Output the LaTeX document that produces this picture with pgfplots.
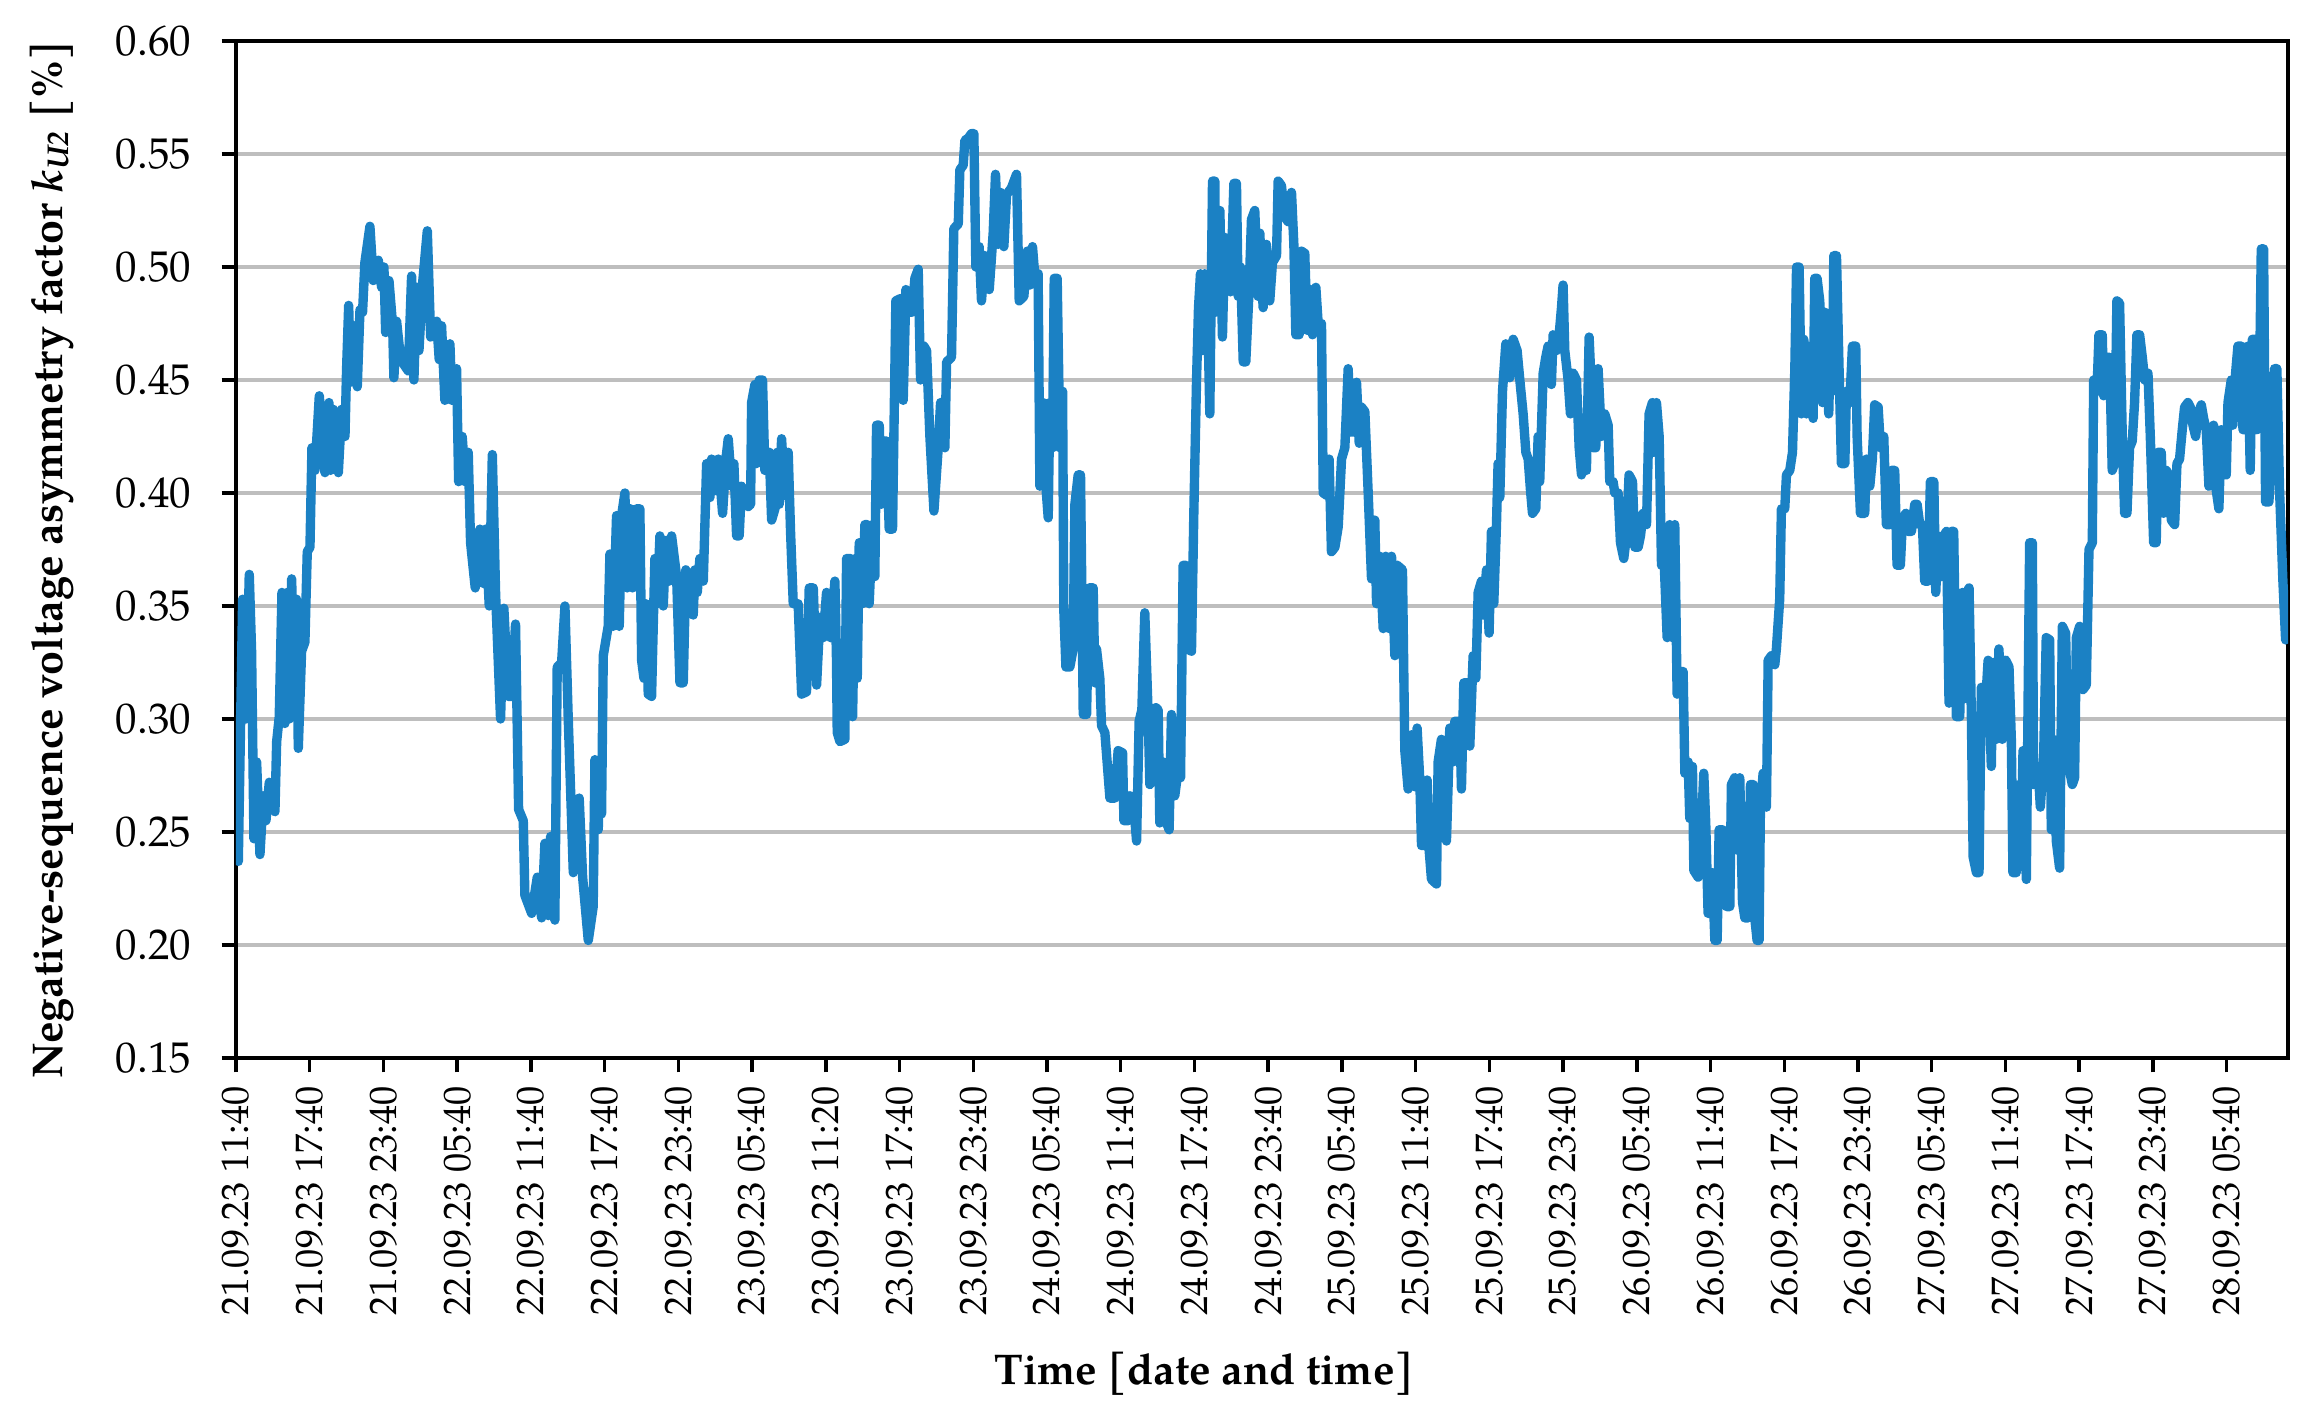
\documentclass[border=0pt]{standalone}
\usepackage{pgfplots}
\pgfplotsset{compat=1.18}
\usepackage{fontspec}
\setmainfont{TeX Gyre Pagella}
\definecolor{lineblue}{RGB}{27,129,196}
\definecolor{gridgray}{RGB}{190,190,190}
\begin{document}
\begin{tikzpicture}
\begin{axis}[
  scale only axis,
  width=18.468cm, height=9.153cm,
  xmin=0, xmax=167, ymin=0.15, ymax=0.60,
  xtick={0,6,...,162},
  xticklabels={21.09.23 11:40,21.09.23 17:40,21.09.23 23:40,22.09.23 05:40,22.09.23 11:40,22.09.23 17:40,22.09.23 23:40,23.09.23 05:40,23.09.23 11:20,23.09.23 17:40,23.09.23 23:40,24.09.23 05:40,24.09.23 11:40,24.09.23 17:40,24.09.23 23:40,25.09.23 05:40,25.09.23 11:40,25.09.23 17:40,25.09.23 23:40,26.09.23 05:40,26.09.23 11:40,26.09.23 17:40,26.09.23 23:40,27.09.23 05:40,27.09.23 11:40,27.09.23 17:40,27.09.23 23:40,28.09.23 05:40},
  x tick label style={rotate=90, anchor=east, font=\fontsize{9.8}{11}\selectfont},
  ytick={0.15,0.20,0.25,0.30,0.35,0.40,0.45,0.50,0.55,0.60},
  y tick label style={font=\fontsize{11}{13}\selectfont, xshift=-0.15cm,
    /pgf/number format/fixed, /pgf/number format/fixed zerofill,
    /pgf/number format/precision=2, /pgf/number format/assume math mode=true},
  ymajorgrids,
  grid style={draw=gridgray, line width=0.8pt},
  axis line style={line width=0.9pt},
  tick style={black, line width=0.9pt},
  tick align=outside,
  major tick length=0.13cm,
  xtick pos=bottom, ytick pos=left,
  xlabel={\textbf{Time [date and time]}},
  xlabel style={at={(axis description cs:0.472,-0.3108)}, anchor=center, font=\fontsize{11}{13}\selectfont},
  ylabel={\textbf{Negative-sequence voltage asymmetry factor \textit{k}\textsubscript{\textit{U2}} [\%]}},
  ylabel style={at={(axis description cs:-0.0897,0.49)}, anchor=center, font=\fontsize{11}{13}\selectfont},
]
\addplot[color=lineblue, line width=2.4pt, line join=round] table {
t v
0.00 0.240
0.08 0.300
0.19 0.237
0.54 0.353
0.81 0.300
1.08 0.364
1.27 0.330
1.46 0.247
1.68 0.281
1.95 0.240
2.22 0.266
2.44 0.255
2.71 0.272
3.04 0.262
3.17 0.259
3.31 0.290
3.52 0.301
3.74 0.356
3.98 0.298
4.17 0.356
4.34 0.300
4.53 0.362
4.72 0.316
4.93 0.353
5.07 0.287
5.34 0.330
5.61 0.334
5.80 0.374
6.02 0.376
6.18 0.420
6.43 0.410
6.78 0.443
7.24 0.409
7.57 0.440
7.70 0.410
7.92 0.437
8.33 0.409
8.60 0.437
8.87 0.425
9.00 0.455
9.17 0.483
9.33 0.449
9.60 0.474
9.87 0.447
10.09 0.481
10.30 0.480
10.49 0.502
10.90 0.518
11.17 0.494
11.58 0.503
11.85 0.491
12.04 0.500
12.18 0.471
12.45 0.494
12.75 0.474
12.85 0.451
13.07 0.476
13.40 0.459
14.02 0.454
14.29 0.496
14.48 0.450
14.70 0.491
14.89 0.463
15.19 0.493
15.57 0.516
15.84 0.469
16.33 0.476
16.54 0.459
16.73 0.474
17.00 0.441
17.41 0.466
17.57 0.441
17.95 0.455
18.12 0.405
18.41 0.425
18.66 0.405
18.90 0.418
19.09 0.378
19.47 0.358
19.85 0.384
20.12 0.360
20.31 0.384
20.61 0.350
20.86 0.417
21.13 0.355
21.53 0.300
21.80 0.349
22.16 0.310
22.43 0.310
22.75 0.342
23.00 0.260
23.38 0.255
23.51 0.222
24.06 0.214
24.52 0.230
24.87 0.212
25.14 0.245
25.41 0.213
25.60 0.248
25.95 0.211
26.14 0.323
26.50 0.325
26.77 0.350
27.04 0.300
27.45 0.232
27.93 0.265
28.21 0.230
28.67 0.202
29.07 0.217
29.21 0.282
29.48 0.251
29.62 0.282
29.75 0.258
29.89 0.328
30.29 0.341
30.43 0.373
30.70 0.341
30.97 0.390
31.19 0.341
31.38 0.390
31.65 0.400
31.84 0.358
32.11 0.393
32.27 0.358
32.60 0.393
32.87 0.393
33.01 0.326
33.20 0.318
33.36 0.351
33.55 0.311
33.82 0.310
34.09 0.371
34.28 0.351
34.50 0.381
34.77 0.350
34.99 0.379
35.26 0.361
35.45 0.381
35.86 0.363
36.13 0.316
36.40 0.316
36.61 0.366
36.94 0.361
37.21 0.346
37.35 0.366
37.54 0.356
37.75 0.371
38.03 0.361
38.30 0.413
38.57 0.398
38.70 0.415
38.97 0.401
39.25 0.415
39.60 0.391
39.87 0.415
40.06 0.424
40.33 0.403
40.52 0.413
40.74 0.381
40.95 0.381
41.14 0.403
41.69 0.394
41.88 0.395
41.96 0.440
42.23 0.448
42.36 0.413
42.58 0.450
42.85 0.450
43.04 0.410
43.40 0.418
43.59 0.388
43.86 0.393
44.05 0.418
44.21 0.395
44.40 0.424
44.67 0.399
44.94 0.418
45.13 0.383
45.35 0.351
45.75 0.351
46.03 0.311
46.43 0.312
46.65 0.358
46.98 0.358
47.25 0.315
47.52 0.345
47.79 0.336
48.06 0.356
48.39 0.336
48.74 0.361
48.87 0.326
48.93 0.294
49.15 0.290
49.55 0.291
49.69 0.371
50.01 0.371
50.18 0.301
50.39 0.371
50.56 0.318
50.72 0.378
50.99 0.351
51.18 0.386
51.37 0.386
51.53 0.351
51.80 0.386
51.99 0.363
52.13 0.430
52.35 0.430
52.53 0.395
52.73 0.423
52.94 0.423
53.16 0.384
53.43 0.384
53.70 0.485
54.08 0.486
54.30 0.441
54.52 0.490
54.84 0.480
55.03 0.480
55.25 0.495
55.52 0.499
55.71 0.450
55.98 0.465
56.20 0.463
56.47 0.425
56.80 0.392
57.15 0.420
57.34 0.440
57.69 0.420
57.83 0.458
58.23 0.460
58.42 0.517
58.78 0.519
58.91 0.543
59.18 0.545
59.32 0.556
59.59 0.557
59.86 0.559
60.05 0.559
60.21 0.500
60.48 0.509
60.67 0.485
60.95 0.505
61.30 0.490
61.62 0.515
61.81 0.541
62.03 0.510
62.22 0.533
62.49 0.509
62.71 0.532
63.11 0.535
63.52 0.541
63.74 0.485
64.12 0.487
64.39 0.507
64.61 0.492
64.82 0.509
65.01 0.496
65.28 0.497
65.42 0.403
65.69 0.440
65.91 0.403
66.10 0.389
66.23 0.440
66.45 0.420
66.59 0.495
66.83 0.495
67.05 0.420
67.27 0.445
67.37 0.348
67.54 0.323
67.86 0.323
68.13 0.331
68.27 0.395
68.54 0.408
68.73 0.408
68.95 0.302
69.22 0.302
69.43 0.358
69.76 0.358
69.90 0.316
70.03 0.331
70.30 0.318
70.44 0.297
70.71 0.294
71.12 0.265
71.52 0.265
71.79 0.286
72.15 0.285
72.26 0.255
72.61 0.255
72.74 0.266
73.01 0.265
73.29 0.246
73.50 0.299
73.72 0.304
73.96 0.347
74.24 0.301
74.37 0.271
74.64 0.274
74.86 0.305
75.05 0.304
75.18 0.254
75.46 0.281
75.67 0.255
75.94 0.251
76.13 0.302
76.40 0.266
76.59 0.274
76.87 0.274
77.08 0.368
77.30 0.368
77.41 0.331
77.76 0.330
77.95 0.391
78.17 0.450
78.33 0.482
78.49 0.497
78.65 0.463
78.85 0.497
79.04 0.492
79.25 0.435
79.47 0.538
79.66 0.538
79.74 0.480
79.93 0.510
80.07 0.525
80.28 0.469
80.47 0.513
80.74 0.512
80.93 0.489
81.21 0.537
81.42 0.537
81.56 0.487
81.75 0.500
81.97 0.458
82.18 0.458
82.45 0.490
82.64 0.521
82.91 0.525
83.18 0.487
83.32 0.515
83.59 0.482
83.86 0.510
84.13 0.485
84.35 0.502
84.68 0.505
84.81 0.538
85.08 0.536
85.36 0.522
85.63 0.520
85.90 0.533
86.09 0.510
86.25 0.470
86.52 0.470
86.71 0.507
86.98 0.506
87.17 0.472
87.45 0.490
87.61 0.470
87.88 0.491
88.07 0.475
88.34 0.475
88.48 0.400
88.75 0.399
88.96 0.415
89.15 0.374
89.43 0.376
89.70 0.385
89.97 0.415
90.24 0.420
90.51 0.455
90.70 0.427
90.97 0.427
91.19 0.449
91.41 0.422
91.59 0.438
91.87 0.436
92.14 0.400
92.41 0.362
92.68 0.388
92.82 0.351
93.09 0.372
93.36 0.340
93.57 0.372
93.85 0.340
94.04 0.372
94.31 0.328
94.50 0.368
94.93 0.366
95.12 0.286
95.39 0.269
95.66 0.293
95.93 0.270
96.12 0.296
96.34 0.273
96.48 0.244
96.80 0.244
96.94 0.273
97.10 0.242
97.29 0.229
97.70 0.227
97.83 0.281
98.10 0.291
98.29 0.269
98.51 0.246
98.78 0.296
99.05 0.281
99.19 0.299
99.60 0.299
99.73 0.269
99.92 0.316
100.27 0.316
100.41 0.288
100.68 0.328
100.90 0.318
101.09 0.356
101.36 0.361
101.49 0.346
101.77 0.366
101.98 0.338
102.17 0.383
102.36 0.351
102.58 0.386
102.71 0.413
102.85 0.398
103.07 0.445
103.34 0.466
103.66 0.451
103.94 0.468
104.26 0.463
104.48 0.450
104.75 0.435
104.97 0.418
105.16 0.415
105.35 0.401
105.51 0.391
105.78 0.393
105.97 0.425
106.10 0.405
106.38 0.453
106.59 0.460
106.78 0.465
107.05 0.448
107.19 0.470
107.46 0.463
107.68 0.470
107.87 0.482
108.00 0.492
108.14 0.463
108.41 0.450
108.60 0.435
108.82 0.453
109.09 0.450
109.31 0.420
109.50 0.408
109.77 0.425
109.90 0.410
110.12 0.469
110.31 0.445
110.45 0.420
110.66 0.420
110.85 0.455
111.12 0.425
111.39 0.435
111.67 0.430
111.80 0.405
112.07 0.405
112.21 0.400
112.48 0.400
112.67 0.378
112.94 0.371
113.16 0.381
113.37 0.408
113.65 0.405
113.84 0.376
114.11 0.376
114.30 0.381
114.51 0.391
114.79 0.386
115.00 0.435
115.27 0.440
115.38 0.418
115.60 0.440
115.82 0.425
116.01 0.368
116.20 0.373
116.47 0.336
116.68 0.386
116.90 0.336
117.09 0.386
117.28 0.311
117.50 0.321
117.77 0.321
117.91 0.276
118.18 0.281
118.31 0.256
118.53 0.279
118.64 0.233
118.99 0.230
119.18 0.242
119.45 0.276
119.61 0.254
119.80 0.214
120.08 0.214
120.16 0.232
120.35 0.202
120.54 0.202
120.70 0.251
120.97 0.251
121.16 0.244
121.30 0.217
121.57 0.217
121.70 0.271
121.97 0.274
122.16 0.242
122.38 0.274
122.60 0.219
122.79 0.212
123.06 0.212
123.25 0.271
123.47 0.271
123.60 0.212
123.79 0.202
123.95 0.202
124.06 0.261
124.28 0.276
124.55 0.261
124.69 0.326
124.96 0.328
125.23 0.324
125.36 0.331
125.63 0.353
125.77 0.393
126.04 0.393
126.18 0.408
126.45 0.410
126.67 0.418
126.86 0.455
127.00 0.500
127.21 0.500
127.40 0.435
127.59 0.468
127.80 0.435
127.94 0.465
128.13 0.458
128.35 0.433
128.48 0.495
128.67 0.495
128.89 0.485
129.11 0.440
129.30 0.480
129.43 0.465
129.62 0.435
129.76 0.470
129.92 0.445
130.03 0.505
130.25 0.505
130.46 0.455
130.65 0.413
130.93 0.413
131.06 0.445
131.33 0.440
131.55 0.465
131.82 0.465
131.93 0.425
132.20 0.391
132.55 0.391
132.69 0.415
132.96 0.403
133.17 0.415
133.36 0.439
133.64 0.438
133.83 0.420
134.10 0.425
134.31 0.386
134.59 0.386
134.72 0.410
134.99 0.410
135.18 0.368
135.45 0.368
135.62 0.388
135.89 0.391
136.08 0.383
136.35 0.383
136.62 0.395
136.81 0.395
137.03 0.386
137.24 0.386
137.43 0.361
137.71 0.361
137.89 0.405
138.17 0.405
138.33 0.356
138.52 0.381
138.79 0.363
138.98 0.381
139.20 0.383
139.41 0.307
139.60 0.383
139.79 0.383
140.01 0.301
140.28 0.301
140.50 0.356
140.69 0.309
140.88 0.356
141.04 0.358
141.23 0.301
141.37 0.239
141.64 0.232
141.85 0.232
142.04 0.314
142.32 0.301
142.59 0.326
142.85 0.279
142.98 0.325
143.26 0.291
143.47 0.331
143.74 0.291
144.02 0.326
144.29 0.323
144.48 0.291
144.61 0.232
144.88 0.232
145.10 0.271
145.29 0.244
145.43 0.286
145.70 0.229
145.97 0.378
146.19 0.378
146.29 0.271
146.65 0.279
146.84 0.261
147.11 0.284
147.32 0.336
147.60 0.335
147.73 0.251
147.92 0.291
148.14 0.246
148.41 0.234
148.63 0.341
148.90 0.338
149.09 0.281
149.44 0.271
149.63 0.274
149.77 0.336
150.04 0.341
150.31 0.313
150.58 0.315
150.80 0.375
151.07 0.378
151.18 0.450
151.45 0.445
151.61 0.470
151.88 0.470
151.99 0.443
152.21 0.460
152.48 0.460
152.69 0.410
152.88 0.413
153.07 0.485
153.29 0.484
153.51 0.425
153.70 0.391
153.89 0.391
154.10 0.420
154.32 0.423
154.51 0.440
154.70 0.470
154.92 0.470
155.14 0.460
155.33 0.450
155.60 0.453
155.79 0.425
156.06 0.378
156.27 0.378
156.41 0.418
156.68 0.418
156.87 0.391
157.09 0.410
157.31 0.408
157.50 0.388
157.77 0.386
157.96 0.413
158.17 0.415
158.39 0.428
158.58 0.438
158.85 0.440
159.04 0.438
159.26 0.430
159.48 0.425
159.66 0.435
159.94 0.439
160.13 0.433
160.34 0.428
160.56 0.403
160.75 0.405
160.94 0.430
161.16 0.401
161.37 0.393
161.56 0.428
161.75 0.410
161.97 0.408
162.11 0.440
162.38 0.450
162.51 0.430
162.73 0.453
162.92 0.465
163.19 0.465
163.33 0.428
163.54 0.428
163.73 0.465
163.92 0.410
164.09 0.468
164.36 0.468
164.47 0.428
164.63 0.430
164.82 0.508
165.01 0.508
165.17 0.396
165.44 0.396
165.71 0.423
165.90 0.455
166.09 0.455
166.31 0.401
166.58 0.361
166.80 0.335
167.00 0.357
};
\coordinate (bbSW) at (rel axis cs:-0.1150,-0.3491);
\coordinate (bbNE) at (rel axis cs:1.0107,1.0403);
\end{axis}
\path (bbSW) rectangle (bbNE);
\end{tikzpicture}
\end{document}
